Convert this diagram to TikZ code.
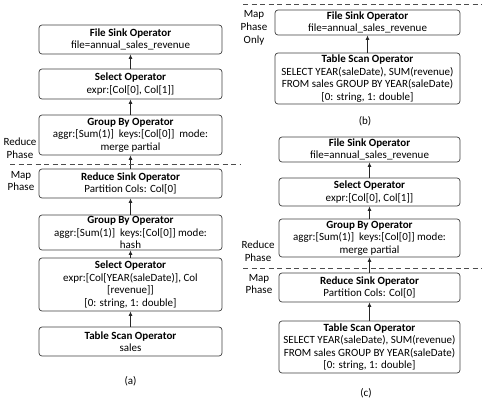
\documentclass[tikz,border=0pt]{standalone}
\usepackage{fontspec}
\setmainfont{Carlito}
\usetikzlibrary{arrows.meta}

\begin{document}
\begin{tikzpicture}[x=1pt,y=-1pt,
		op/.style={draw=black!75,line width=0.7pt,rounded corners=3pt,fill=white,align=center,inner sep=0pt,minimum width=183pt,font=\fontsize{11}{12.5}\selectfont},
		flow/.style={-{Latex[length=4.5pt,width=4pt]},line width=0.8pt,black!85},
		phase/.style={dash pattern=on 5pt off 3.5pt,line width=0.6pt,black!70},
		lbl/.style={align=center,font=\fontsize{11}{12.8}\selectfont}]
		\useasboundingbox (0,0) rectangle (482,405);
		% (a)
		\node[op,minimum height=29pt] (fsA) at (130.5,39.5) {\textbf{File Sink Operator}\\file=annual\_sales\_revenue};
		\node[op,minimum height=30pt] (selA) at (130.5,84) {\textbf{Select Operator}\\expr:[Col[0], Col[1]]};
		\node[op,minimum height=40pt] (gbA) at (130.5,135) {\textbf{Group By Operator}\\aggr:[Sum(1)]\ \ keys:[Col[0]]\ \ mode:\\merge partial};
		\node[op,minimum height=29pt] (rsA) at (130.5,183.5) {\textbf{Reduce Sink Operator}\\Partition Cols: Col[0]};
		\node[op,minimum height=35pt] (gbA2) at (130.5,232.5) {\textbf{Group By Operator}\\aggr:[Sum(1)]\ \ keys:[Col[0]] mode:\\hash};
		\node[op,minimum height=53pt] (selA2) at (130.5,284.5) {\textbf{Select Operator}\\expr:[Col[YEAR(saleDate)], Col\\{[}revenue]]\\{[}0: string, 1: double]};
		\node[op,minimum height=29pt] (tsA) at (130.5,341.5) {\textbf{Table Scan Operator}\\sales};
		\draw[flow] (selA) -- (fsA);
		\draw[flow] (gbA) -- (selA);
		\draw[flow] (rsA) -- (gbA);
		\draw[flow] (gbA2) -- (rsA);
		\draw[flow] (selA2) -- (gbA2);
		\draw[flow] (tsA) -- (selA2);
		\draw[phase] (10,164) -- (240,164);
		\node[lbl] (redA) at (20,148.5) {Reduce\\Phase};
		\node[lbl] (mapA) at (21,181) {Map\\Phase};
		\node[lbl] (capA) at (130.5,381) {(a)};
		% (b)
		\node[op,minimum width=185pt,minimum height=25pt] (fsB) at (367.5,22.5) {\textbf{File Sink Operator}\\file=annual\_sales\_revenue};
		\node[op,minimum width=185pt,minimum height=51pt] (tsB) at (367.5,78.5) {\textbf{Table Scan Operator}\\SELECT YEAR(saleDate), SUM(revenue)\\FROM sales GROUP BY YEAR(saleDate)\\{[}0: string, 1: double]};
		\draw[flow] (tsB) -- (fsB);
		\draw[phase] (243,4) -- (482,4);
		\node[lbl] (mapB) at (254,28) {Map\\Phase\\Only};
		\node[lbl] (capB) at (365,121) {(b)};
		% (c)
		\node[op,minimum width=181pt,minimum height=25pt] (fsC) at (369.5,149.5) {\textbf{File Sink Operator}\\file=annual\_sales\_revenue};
		\node[op,minimum width=181pt,minimum height=28pt] (selC) at (369.5,192) {\textbf{Select Operator}\\expr:[Col[0], Col[1]]};
		\node[op,minimum width=181pt,minimum height=38pt] (gbC) at (369.5,238) {\textbf{Group By Operator}\\aggr:[Sum(1)]\ \ keys:[Col[0]] mode:\\merge partial};
		\node[op,minimum width=181pt,minimum height=29pt] (rsC) at (369.5,287.5) {\textbf{Reduce Sink Operator}\\Partition Cols: Col[0]};
		\node[op,minimum width=181pt,minimum height=52pt] (tsC) at (369.5,347) {\textbf{Table Scan Operator}\\SELECT YEAR(saleDate), SUM(revenue)\\FROM sales GROUP BY YEAR(saleDate)\\{[}0: string, 1: double]};
		\draw[flow] (selC) -- (fsC);
		\draw[flow] (gbC) -- (selC);
		\draw[flow] (rsC) -- (gbC);
		\draw[flow] (tsC) -- (rsC);
		\draw[phase] (243,268) -- (482,268);
		\node[lbl] (redC) at (258,251) {Reduce\\Phase};
		\node[lbl] (mapC) at (259,284) {Map\\Phase};
		\node[lbl] (capC) at (366,393) {(c)};
	\end{tikzpicture}
\end{document}
